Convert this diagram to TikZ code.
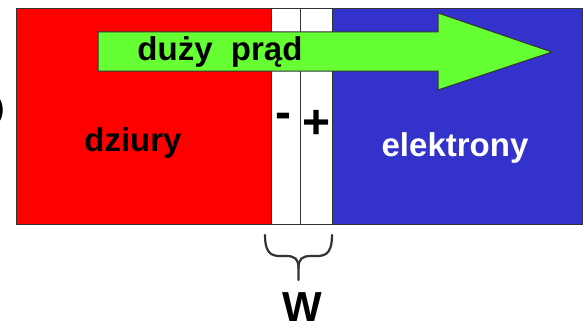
\documentclass[tikz,border=0pt]{standalone}
\usepackage{fontspec}
\setmainfont{Liberation Sans}
\definecolor{pred}{HTML}{FF0000}
\definecolor{pblue}{HTML}{3333CC}
\definecolor{pgreen}{HTML}{66FF33}
\definecolor{edge}{HTML}{333333}
\begin{document}
\begin{tikzpicture}[x=1pt,y=-1pt,
  region/.style={draw=edge,line width=1pt},
  lbl/.style={font=\fontsize{33}{36}\selectfont\bfseries,inner sep=0pt},
  sign/.style={font=\fontsize{48}{50}\selectfont\bfseries,inner sep=0pt}]
\useasboundingbox (0,0) rectangle (585,329);
\path[fill=white] (0,0) rectangle (585,329);
% partial glyph at left edge
\draw[line width=3pt] (-4,96) .. controls (3,104) and (3,116) .. (-4,124);
% regions
\draw[region,fill=pred] (16,9) rectangle (271,224);
\draw[region,fill=white] (271,9) rectangle (300,224);
\draw[region,fill=white] (300,9) rectangle (332,224);
\draw[region,fill=pblue] (332,9) rectangle (582,224);
% arrow
\draw[edge,line width=1pt,fill=pgreen,line join=miter]
  (98,32) -- (438,32) -- (438,13) -- (552,52) -- (438,90) -- (438,71) -- (98,71) -- cycle;
\node[lbl] (prad) at (220,52) {duży\ \ prąd};
\node[lbl] (dziury) at (133,143) {dziury};
\node[lbl,text=white] (elek) at (455,148) {elektrony};
\node[sign] (minus) at (283,121) {-};
\node[sign] (plus) at (317,124) {+};
% brace
\coordinate (bl) at (265,235);
\coordinate (br) at (332,235);
\coordinate (bt) at (298.5,280);
\draw[edge,line width=2.2pt,line cap=round]
  (bl) .. controls (265,258) and (275,256) .. (286,256)
  .. controls (295,256) and (298.5,259) .. (298.5,268) -- (bt);
\draw[edge,line width=2.2pt,line cap=round]
  (br) .. controls (332,258) and (322,256) .. (311,256)
  .. controls (302,256) and (298.5,259) .. (298.5,268);
\node[font=\fontsize{42}{44}\selectfont\bfseries,inner sep=0pt] (W) at (302,307) {W};
\end{tikzpicture}
\end{document}
